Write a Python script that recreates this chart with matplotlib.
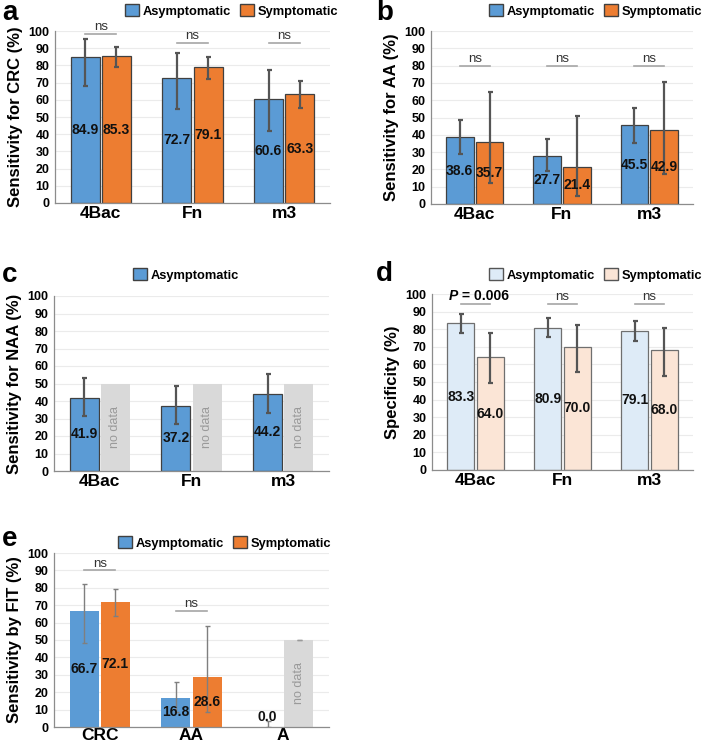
import numpy as np
import matplotlib
matplotlib.use("Agg")
import matplotlib.pyplot as plt
from matplotlib.patches import Patch

plt.rcParams["font.family"] = ["Liberation Sans", "DejaVu Sans"]

# ------------------------------------------------------------
# Data
# ------------------------------------------------------------

markers = ["4Bac", "Fn", "m3"]
fit_groups = ["CRC", "AA", "A"]

# a: sensitivity for CRC
crc_asym = [84.9, 72.7, 60.6]
crc_asym_lo = [68.0, 54.8, 41.9]
crc_asym_hi = [95.1, 87.0, 77.3]
crc_symp = [85.3, 79.1, 63.3]
crc_symp_lo = [79.2, 72.0, 55.5]
crc_symp_hi = [90.5, 85.0, 70.7]
crc_sig = ["ns", "ns", "ns"]
crc_sig_y = [98.5, 93, 93]

# b: sensitivity for AA
aa_asym = [38.6, 27.7, 45.5]
aa_asym_lo = [28.8, 19.1, 35.5]
aa_asym_hi = [48.7, 37.4, 55.7]
aa_symp = [35.7, 21.4, 42.9]
aa_symp_lo = [12.4, 4.6, 17.4]
aa_symp_hi = [64.7, 50.6, 70.8]
aa_sig = ["ns", "ns", "ns"]
aa_sig_y = [80, 80, 80]

# c: sensitivity for NAA (asymptomatic only)
naa_asym = [41.9, 37.2, 44.2]
naa_asym_lo = [31.3, 27.1, 33.4]
naa_asym_hi = [53.2, 48.5, 55.3]
naa_nodata = [50, 50, 50]

# d: specificity
spec_asym = [83.3, 80.9, 79.1]
spec_asym_lo = [78.1, 75.3, 73.4]
spec_asym_hi = [88.5, 86.6, 84.9]
spec_symp = [64.0, 70.0, 68.0]
spec_symp_lo = [49.2, 55.5, 53.4]
spec_symp_hi = [77.7, 82.6, 80.9]
spec_sig = ["P = 0.006", "ns", "ns"]
spec_sig_y = [94.2, 94.2, 94.2]

# e: sensitivity by FIT
fit_asym = [66.7, 16.8, 0.0]
fit_asym_lo = [48.3, 8.4, 0.0]
fit_asym_hi = [82.3, 25.8, 3.7]
fit_symp = [72.1, 28.6]
fit_symp_lo = [63.7, 8.5]
fit_symp_hi = [79.4, 58.3]
fit_nodata = [50]
fit_sig = ["ns", "ns"]
fit_sig_y = [90, 66.7]

# ------------------------------------------------------------
# Style
# ------------------------------------------------------------

BLUE = "#5B9BD5"
ORANGE = "#ED7D31"
LIGHT_BLUE = "#DEEBF7"
LIGHT_ORANGE = "#FBE5D6"
NODATA = "#D9D9D9"
W = 0.316
OFF = 0.17

W_PX, H_PX = 709, 749
fig = plt.figure(figsize=(W_PX / 100, H_PX / 100), dpi=100)


def px_axes(left, top, right, bottom):
    return fig.add_axes([left / W_PX, 1 - bottom / H_PX,
                         (right - left) / W_PX, (bottom - top) / H_PX])


def base_axes(ax, labels, ylabel):
    ax.set_ylim(0, 100)
    ax.set_xlim(-0.5, 2.5)
    ax.set_yticks(np.arange(0, 101, 10))
    ax.set_xticks(range(len(labels)))
    ax.set_xticklabels(labels, fontsize=12.5, fontweight="bold")
    for t in ax.get_yticklabels():
        t.set_fontweight("bold")
        t.set_fontsize(9)
    ax.tick_params(length=0, pad=4)
    ax.tick_params(axis="x", pad=2.5)
    ax.grid(axis="y", color="#EBEBEB", lw=0.8)
    ax.set_axisbelow(True)
    for s in ["top", "right"]:
        ax.spines[s].set_visible(False)
    for s in ["left", "bottom"]:
        ax.spines[s].set_color("#8c8c8c")
        ax.spines[s].set_linewidth(0.9)
    ax.set_ylabel(ylabel, fontsize=12, fontweight="bold", labelpad=4)


def bars(ax, x, vals, lo, hi, color, edge, elw, ecolor, label_vals=True):
    x = np.asarray(x, dtype=float)
    vals = np.asarray(vals)
    err = [vals - np.asarray(lo), np.asarray(hi) - vals]
    ax.bar(x, vals, W, color=color, edgecolor=edge, linewidth=0.9 if edge != "none" else 0)
    ax.errorbar(x, vals, yerr=err, fmt="none", ecolor=ecolor, elinewidth=elw,
                capsize=1.8, capthick=elw)
    if label_vals:
        for xi, v in zip(x, vals):
            ax.text(xi, max(v / 2, 5.8), f"{v:.1f}", ha="center", va="center",
                    fontsize=10, fontweight="bold", color="#111111")


def nodata(ax, x, vals):
    ax.bar(x, vals, W, color=NODATA, linewidth=0)
    for xi, v in zip(x, vals):
        ax.text(xi, v / 2, "no data", rotation=90, ha="center", va="center",
                fontsize=9, color="#9a9a9a")


def brackets(ax, x, texts, ys):
    for xi, t, y in zip(x, texts, ys):
        ax.plot([xi - OFF, xi + OFF], [y, y], color="#a6a6a6", lw=1.2, clip_on=False)
        if t.startswith("P"):
            p = ax.text(xi - 0.31, y + 0.5, "P", ha="left", va="bottom", fontsize=10,
                        fontweight="bold", fontstyle="italic", clip_on=False)
            ax.annotate(t[1:], xy=(1, 0), xycoords=p, ha="left", va="bottom",
                        fontsize=10, fontweight="bold")
        else:
            ax.text(xi, y + 0.5, t, ha="center", va="bottom", fontsize=9.5,
                    color="#333333", clip_on=False)


def legend(ax, handles, x, y, loc):
    ax.legend(handles=handles, loc=loc, bbox_to_anchor=(x / W_PX, 1 - y / H_PX),
              bbox_transform=fig.transFigure, ncol=len(handles), frameon=False,
              prop={"weight": "bold", "size": 9.3}, handlelength=1.05,
              handleheight=1.05, handletextpad=0.3, columnspacing=0.7,
              borderaxespad=0, borderpad=0)


def letter(x, y, s):
    fig.text(x / W_PX, 1 - y / H_PX, s, fontsize=20, fontweight="bold",
             ha="left", va="top")


pos = np.arange(3)
edge = "#404040"
leg_main = [Patch(facecolor=BLUE, edgecolor=edge, label="Asymptomatic"),
            Patch(facecolor=ORANGE, edgecolor=edge, label="Symptomatic")]

# ------------------------------------------------------------
# Panel a
# ------------------------------------------------------------

ax = px_axes(55, 31, 330, 203)
base_axes(ax, markers, "Sensitivity for CRC (%)")
bars(ax, pos - OFF, crc_asym, crc_asym_lo, crc_asym_hi, BLUE, edge, 1.6, "#555555")
bars(ax, pos + OFF, crc_symp, crc_symp_lo, crc_symp_hi, ORANGE, edge, 1.6, "#555555")
brackets(ax, pos, crc_sig, crc_sig_y)
legend(ax, leg_main, 338, 11, "center right")
letter(2, 0, "a")

# ------------------------------------------------------------
# Panel b
# ------------------------------------------------------------

ax = px_axes(431, 31, 693, 204)
base_axes(ax, markers, "Sensitivity for AA (%)")
bars(ax, pos - OFF, aa_asym, aa_asym_lo, aa_asym_hi, BLUE, edge, 1.6, "#555555")
bars(ax, pos + OFF, aa_symp, aa_symp_lo, aa_symp_hi, ORANGE, edge, 1.6, "#555555")
brackets(ax, pos, aa_sig, aa_sig_y)
legend(ax, leg_main, 702, 11, "center right")
letter(376, 0, "b")

# ------------------------------------------------------------
# Panel c
# ------------------------------------------------------------

ax = px_axes(54, 296, 329, 471)
base_axes(ax, markers, "Sensitivity for NAA (%)")
bars(ax, pos - OFF, naa_asym, naa_asym_lo, naa_asym_hi, BLUE, edge, 1.6, "#555555")
nodata(ax, pos + OFF, naa_nodata)
legend(ax, leg_main[:1], 186, 275, "center")
letter(2, 262, "c")

# ------------------------------------------------------------
# Panel d
# ------------------------------------------------------------

ax = px_axes(432, 294, 693, 470)
base_axes(ax, markers, "Specificity (%)")
bars(ax, pos - OFF, spec_asym, spec_asym_lo, spec_asym_hi, LIGHT_BLUE, "#6f6f6f", 1.6, "#555555")
bars(ax, pos + OFF, spec_symp, spec_symp_lo, spec_symp_hi, LIGHT_ORANGE, "#6f6f6f", 1.6, "#555555")
brackets(ax, pos, spec_sig, spec_sig_y)
leg_light = [Patch(facecolor=LIGHT_BLUE, edgecolor="#555555", label="Asymptomatic"),
             Patch(facecolor=LIGHT_ORANGE, edgecolor="#555555", label="Symptomatic")]
legend(ax, leg_light, 702, 275, "center right")
letter(376, 261, "d")

# ------------------------------------------------------------
# Panel e
# ------------------------------------------------------------

ax = px_axes(54, 553, 329, 727)
base_axes(ax, fit_groups, "Sensitivity by FIT (%)")
ax.tick_params(axis="x", pad=1)
bars(ax, pos - OFF, fit_asym, fit_asym_lo, fit_asym_hi, BLUE, "none", 1.0, "#7f7f7f")
bars(ax, pos[:2] + OFF, fit_symp, fit_symp_lo, fit_symp_hi, ORANGE, "none", 1.0, "#7f7f7f")
nodata(ax, pos[2:] + OFF, fit_nodata)
ax.errorbar(pos[2:] + OFF, fit_nodata, yerr=[[0], [0]], fmt="none", ecolor="#9a9a9a",
            elinewidth=1, capsize=1.8)
brackets(ax, pos[:2], fit_sig, fit_sig_y)
leg_e = [Patch(facecolor=BLUE, edgecolor=edge, label="Asymptomatic"),
         Patch(facecolor=ORANGE, edgecolor=edge, label="Symptomatic")]
legend(ax, leg_e, 331, 543, "center right")
letter(2, 526, "e")

fig.savefig("out.png", dpi=100)
